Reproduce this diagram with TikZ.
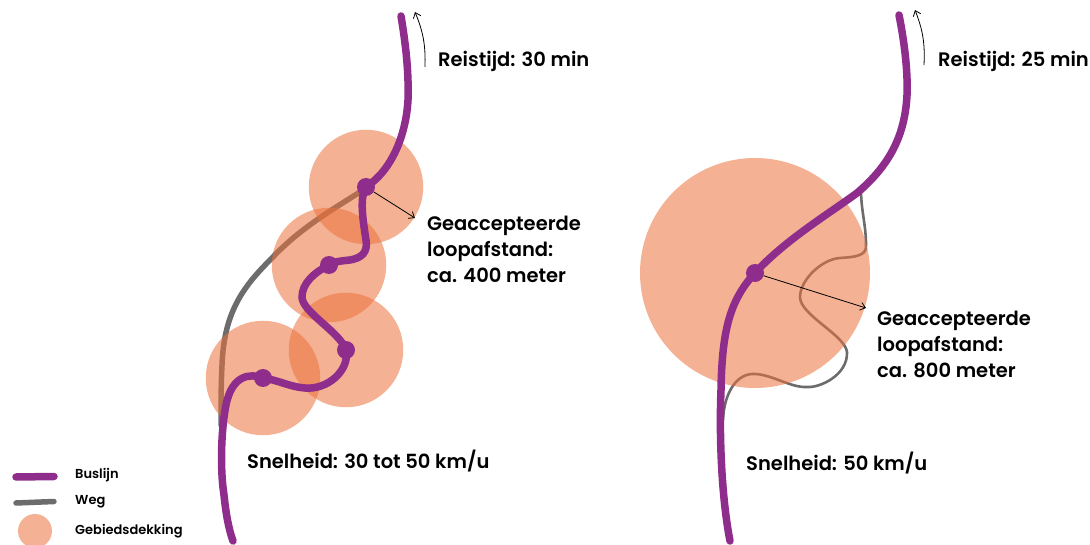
\documentclass[tikz,border=0pt]{standalone}
\usepackage{fontspec}
\setmainfont{Poppins}[BoldFont={Poppins SemiBold}]
\usetikzlibrary{arrows.meta}
\definecolor{busPurple}{RGB}{142,45,140}
\definecolor{roadGray}{RGB}{108,108,108}
\definecolor{coverOrange}{RGB}{235,113,59}
\tikzset{
  busline/.style={busPurple, line width=7.5pt, line cap=round},
  roadline/.style={roadGray, line width=5.5pt, line cap=round},
  thinroad/.style={roadGray, line width=2.6pt, line cap=round},
  coverage/.style={circle, fill=coverOrange, fill opacity=0.55, inner sep=0pt, minimum size=#1},
  stopdot/.style={circle, fill=busPurple, inner sep=0pt, minimum size=18pt},
  thinarrow/.style={black, line width=0.8pt, -{Straight Barb[length=5pt,width=8pt]}},
  maintext/.style={anchor=west, font=\fontsize{19.5}{26}\selectfont\bfseries, align=left, inner sep=0pt, text=black},
  legendtext/.style={anchor=west, font=\fontsize{13}{14}\selectfont\bfseries, inner sep=0pt, text=black},
}
\begin{document}
\begin{tikzpicture}[x=1pt,y=-1pt]
\useasboundingbox (0,0) rectangle (1090,545);

% left: slow line with four stops
\coordinate (stopA) at (366,187);
\coordinate (stopB) at (329,265);
\coordinate (stopC) at (346,350);
\coordinate (stopD) at (263,378);
\draw[roadline] (360,192) .. controls (335,208) and (300,228) .. (272,258)
  .. controls (245,285) and (224,310) .. (222,365) .. controls (221,385) and (221,405) .. (221,425);
\node[coverage=114.5pt] (coverA) at (stopA) {};
\node[coverage=114.5pt] (coverB) at (stopB) {};
\node[coverage=114.5pt] (coverC) at (stopC) {};
\node[coverage=114.5pt] (coverD) at (stopD) {};
\draw[busline] (401,16) .. controls (405,40) and (409,70) .. (408,100)
  .. controls (406,135) and (392,170) .. (stopA)
  .. controls (360,197) and (362,215) .. (366,240)
  .. controls (368,252) and (362,258) .. (350,260)
  .. controls (340,261) and (332,262) .. (stopB)
  .. controls (315,272) and (302,283) .. (302,297)
  .. controls (302,312) and (340,332) .. (stopC)
  .. controls (350,370) and (328,390) .. (305,388)
  .. controls (290,387) and (278,380) .. (stopD)
  .. controls (250,373) and (232,375) .. (226,405)
  .. controls (221,430) and (220,470) .. (224,495)
  .. controls (226,515) and (229,530) .. (233,541);
\node[stopdot] (stopdotA) at (stopA) {};
\node[stopdot] (stopdotB) at (stopB) {};
\node[stopdot] (stopdotC) at (stopC) {};
\node[stopdot] (stopdotD) at (stopD) {};
\coordinate (walkA) at (415,218);
\draw[thinarrow] (stopdotA) -- (walkA);
\coordinate (timeAstart) at (425,67);
\coordinate (timeAend) at (415,12);
\draw[thinarrow] (timeAstart) to[bend right=12] (timeAend);
\node[maintext] (timeA) at (438,61.5) {Reistijd: 30 min};
\node[maintext] (walktextA) at (427,249.5) {Geaccepteerde\\loopafstand:\\ca. 400 meter};
\node[maintext] (speedA) at (247,461) {Snelheid: 30 tot 50 km/u};

% right: fast line with one stop
\coordinate (stopE) at (755,273);
\draw[thinroad] (861,190) .. controls (861,210) and (866,225) .. (866,245)
  .. controls (867,256) and (855,257) .. (840,258)
  .. controls (822,259) and (800,280) .. (800,297)
  .. controls (800,315) and (845,335) .. (847,352)
  .. controls (848,375) and (820,388) .. (807,387)
  .. controls (790,388) and (770,373) .. (752,374)
  .. controls (735,375) and (724,395) .. (723,420);
\node[coverage=230pt] (coverE) at (stopE) {};
\draw[busline] (899,15) .. controls (904,40) and (908,70) .. (907,95)
  .. controls (905,135) and (890,165) .. (857,193)
  .. controls (830,213) and (785,240) .. (stopE)
  .. controls (730,300) and (722,330) .. (721,390)
  .. controls (719,440) and (722,500) .. (730,541);
\node[stopdot] (stopdotE) at (stopE) {};
\coordinate (walkE) at (866,308);
\draw[thinarrow] (stopdotE) -- (walkE);
\coordinate (timeEstart) at (924,65);
\coordinate (timeEend) at (915,10);
\draw[thinarrow] (timeEstart) to[bend right=12] (timeEend);
\node[maintext] (timeE) at (938,61.5) {Reistijd: 25 min};
\node[maintext] (walktextE) at (877,344.5) {Geaccepteerde\\loopafstand:\\ca. 800 meter};
\node[maintext] (speedE) at (746,463) {Snelheid: 50 km/u};

% legend
\coordinate (busleft) at (16,477);
\coordinate (busright) at (54,476.5);
\draw[busline] (busleft) -- (busright);
\coordinate (roadleft) at (16,503);
\coordinate (roadright) at (54,501.5);
\draw[roadline] (roadleft) -- (roadright);
\node[coverage=34pt] (coverkey) at (35,531) {};
\node[legendtext] (buskey) at (75,475) {Buslijn};
\node[legendtext] (roadkey) at (75,502) {Weg};
\node[legendtext] (coverlabel) at (75,531) {Gebiedsdekking};
\end{tikzpicture}
\end{document}
